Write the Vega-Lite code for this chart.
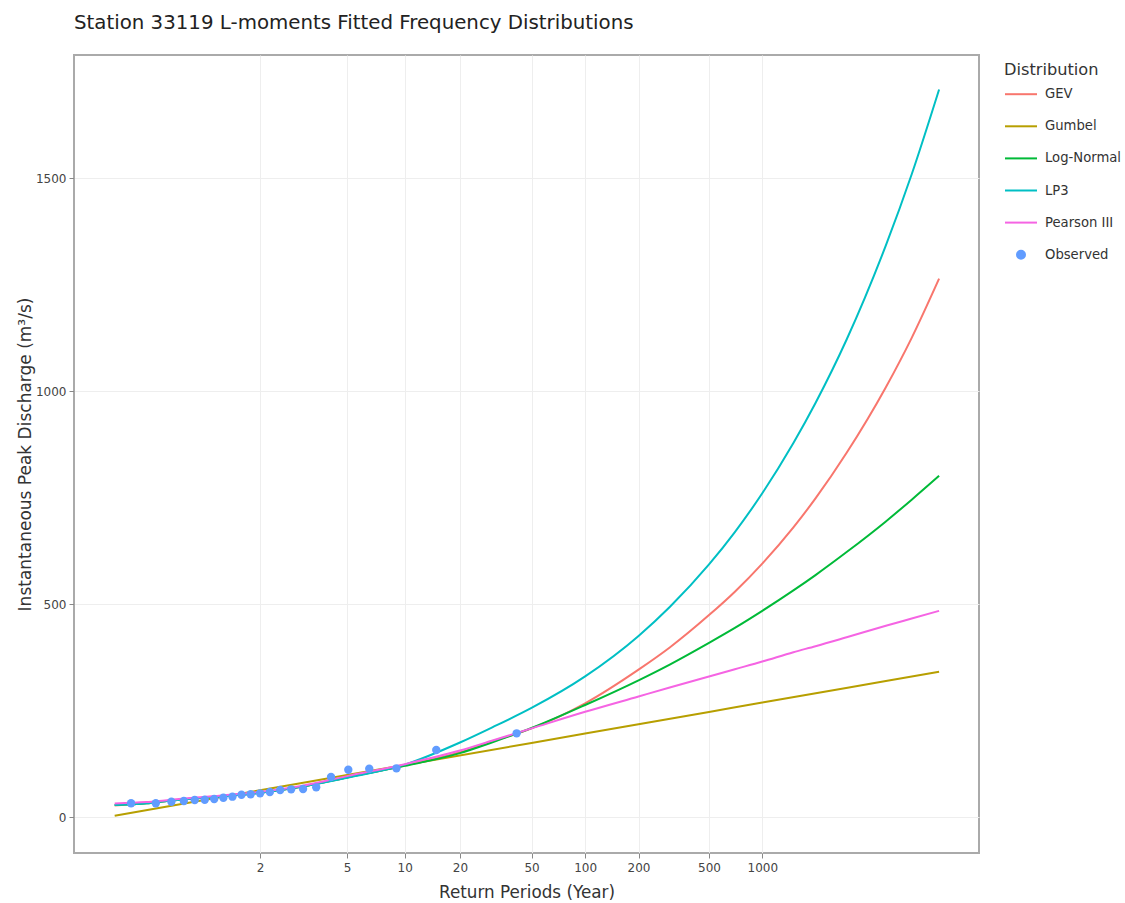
{
  "$schema": "https://vega.github.io/schema/vega-lite/v6.json",
  "width": 905,
  "height": 798,
  "autosize": {"type": "none"},
  "padding": {"left": 74, "top": 55, "right": 146, "bottom": 50},
  "background": "white",
  "title": {"text": "Station 33119 L-moments Fitted Frequency Distributions", "anchor": "start", "frame": "group", "fontSize": 19.8, "font": "DejaVu Sans", "fontWeight": "normal", "color": "#222222", "offset": 22},
  "config": {"view": {"stroke": "#aaaaaa", "strokeWidth": 2}, "font": "DejaVu Sans"},
  "data": {"values": [
    {"Distribution": "GEV", "GumbelVariate": -1.5272, "Discharge": 27},
    {"Distribution": "GEV", "GumbelVariate": -1.1133, "Discharge": 32},
    {"Distribution": "GEV", "GumbelVariate": -0.8746, "Discharge": 37},
    {"Distribution": "GEV", "GumbelVariate": -0.5832, "Discharge": 42},
    {"Distribution": "GEV", "GumbelVariate": -0.0940, "Discharge": 49},
    {"Distribution": "GEV", "GumbelVariate": 0.3665, "Discharge": 57},
    {"Distribution": "GEV", "GumbelVariate": 0.9027, "Discharge": 71},
    {"Distribution": "GEV", "GumbelVariate": 1.4999, "Discharge": 93},
    {"Distribution": "GEV", "GumbelVariate": 2.2504, "Discharge": 121},
    {"Distribution": "GEV", "GumbelVariate": 2.9702, "Discharge": 152},
    {"Distribution": "GEV", "GumbelVariate": 3.3843, "Discharge": 177},
    {"Distribution": "GEV", "GumbelVariate": 3.9019, "Discharge": 208},
    {"Distribution": "GEV", "GumbelVariate": 4.6001, "Discharge": 267},
    {"Distribution": "GEV", "GumbelVariate": 5.2958, "Discharge": 346},
    {"Distribution": "GEV", "GumbelVariate": 5.7021, "Discharge": 398},
    {"Distribution": "GEV", "GumbelVariate": 6.2136, "Discharge": 474},
    {"Distribution": "GEV", "GumbelVariate": 6.5503, "Discharge": 529},
    {"Distribution": "GEV", "GumbelVariate": 6.9073, "Discharge": 595},
    {"Distribution": "GEV", "GumbelVariate": 7.3128, "Discharge": 680},
    {"Distribution": "GEV", "GumbelVariate": 7.6006, "Discharge": 748},
    {"Distribution": "GEV", "GumbelVariate": 8.0062, "Discharge": 855},
    {"Distribution": "GEV", "GumbelVariate": 8.5170, "Discharge": 1009},
    {"Distribution": "GEV", "GumbelVariate": 8.8536, "Discharge": 1125},
    {"Distribution": "GEV", "GumbelVariate": 9.2103, "Discharge": 1264},

    {"Distribution": "Gumbel", "GumbelVariate": -1.5272, "Discharge": 3.1},
    {"Distribution": "Gumbel", "GumbelVariate": -0.5832, "Discharge": 32.8},
    {"Distribution": "Gumbel", "GumbelVariate": 0.3665, "Discharge": 62.7},
    {"Distribution": "Gumbel", "GumbelVariate": 1.4999, "Discharge": 98.4},
    {"Distribution": "Gumbel", "GumbelVariate": 2.2504, "Discharge": 122.0},
    {"Distribution": "Gumbel", "GumbelVariate": 3.9019, "Discharge": 174.0},
    {"Distribution": "Gumbel", "GumbelVariate": 4.6001, "Discharge": 196.0},
    {"Distribution": "Gumbel", "GumbelVariate": 6.2136, "Discharge": 246.7},
    {"Distribution": "Gumbel", "GumbelVariate": 6.9073, "Discharge": 268.6},
    {"Distribution": "Gumbel", "GumbelVariate": 8.5170, "Discharge": 319.2},
    {"Distribution": "Gumbel", "GumbelVariate": 9.2103, "Discharge": 341.0},

    {"Distribution": "Log-Normal", "GumbelVariate": -1.5272, "Discharge": 28},
    {"Distribution": "Log-Normal", "GumbelVariate": -1.1133, "Discharge": 32},
    {"Distribution": "Log-Normal", "GumbelVariate": -0.8746, "Discharge": 37},
    {"Distribution": "Log-Normal", "GumbelVariate": -0.5832, "Discharge": 42},
    {"Distribution": "Log-Normal", "GumbelVariate": -0.0940, "Discharge": 49},
    {"Distribution": "Log-Normal", "GumbelVariate": 0.3665, "Discharge": 57},
    {"Distribution": "Log-Normal", "GumbelVariate": 0.9027, "Discharge": 71},
    {"Distribution": "Log-Normal", "GumbelVariate": 1.4999, "Discharge": 93},
    {"Distribution": "Log-Normal", "GumbelVariate": 2.2504, "Discharge": 120},
    {"Distribution": "Log-Normal", "GumbelVariate": 2.9702, "Discharge": 150},
    {"Distribution": "Log-Normal", "GumbelVariate": 3.3843, "Discharge": 175},
    {"Distribution": "Log-Normal", "GumbelVariate": 3.9019, "Discharge": 209},
    {"Distribution": "Log-Normal", "GumbelVariate": 4.6001, "Discharge": 263},
    {"Distribution": "Log-Normal", "GumbelVariate": 5.2958, "Discharge": 321},
    {"Distribution": "Log-Normal", "GumbelVariate": 5.7021, "Discharge": 358},
    {"Distribution": "Log-Normal", "GumbelVariate": 6.2136, "Discharge": 409},
    {"Distribution": "Log-Normal", "GumbelVariate": 6.5503, "Discharge": 444},
    {"Distribution": "Log-Normal", "GumbelVariate": 6.9073, "Discharge": 484},
    {"Distribution": "Log-Normal", "GumbelVariate": 7.3128, "Discharge": 532},
    {"Distribution": "Log-Normal", "GumbelVariate": 7.6006, "Discharge": 568},
    {"Distribution": "Log-Normal", "GumbelVariate": 8.0062, "Discharge": 622},
    {"Distribution": "Log-Normal", "GumbelVariate": 8.5170, "Discharge": 694},
    {"Distribution": "Log-Normal", "GumbelVariate": 8.8536, "Discharge": 745},
    {"Distribution": "Log-Normal", "GumbelVariate": 9.2103, "Discharge": 801},

    {"Distribution": "LP3", "GumbelVariate": -1.5272, "Discharge": 28},
    {"Distribution": "LP3", "GumbelVariate": -1.1133, "Discharge": 32},
    {"Distribution": "LP3", "GumbelVariate": -0.8746, "Discharge": 37},
    {"Distribution": "LP3", "GumbelVariate": -0.5832, "Discharge": 42},
    {"Distribution": "LP3", "GumbelVariate": -0.0940, "Discharge": 49},
    {"Distribution": "LP3", "GumbelVariate": 0.3665, "Discharge": 57},
    {"Distribution": "LP3", "GumbelVariate": 0.9027, "Discharge": 71},
    {"Distribution": "LP3", "GumbelVariate": 1.4999, "Discharge": 92},
    {"Distribution": "LP3", "GumbelVariate": 2.2504, "Discharge": 123},
    {"Distribution": "LP3", "GumbelVariate": 2.9702, "Discharge": 175},
    {"Distribution": "LP3", "GumbelVariate": 3.3843, "Discharge": 210},
    {"Distribution": "LP3", "GumbelVariate": 3.9019, "Discharge": 256},
    {"Distribution": "LP3", "GumbelVariate": 4.6001, "Discharge": 330},
    {"Distribution": "LP3", "GumbelVariate": 5.2958, "Discharge": 425},
    {"Distribution": "LP3", "GumbelVariate": 5.7021, "Discharge": 493},
    {"Distribution": "LP3", "GumbelVariate": 6.2136, "Discharge": 593},
    {"Distribution": "LP3", "GumbelVariate": 6.5503, "Discharge": 669},
    {"Distribution": "LP3", "GumbelVariate": 6.9073, "Discharge": 760},
    {"Distribution": "LP3", "GumbelVariate": 7.3128, "Discharge": 878},
    {"Distribution": "LP3", "GumbelVariate": 7.6006, "Discharge": 972},
    {"Distribution": "LP3", "GumbelVariate": 8.0062, "Discharge": 1121},
    {"Distribution": "LP3", "GumbelVariate": 8.5170, "Discharge": 1342},
    {"Distribution": "LP3", "GumbelVariate": 8.8536, "Discharge": 1509},
    {"Distribution": "LP3", "GumbelVariate": 9.2103, "Discharge": 1708},

    {"Distribution": "Pearson III", "GumbelVariate": -1.5272, "Discharge": 32},
    {"Distribution": "Pearson III", "GumbelVariate": -1.1133, "Discharge": 35},
    {"Distribution": "Pearson III", "GumbelVariate": -0.8746, "Discharge": 39},
    {"Distribution": "Pearson III", "GumbelVariate": -0.5832, "Discharge": 44},
    {"Distribution": "Pearson III", "GumbelVariate": -0.0940, "Discharge": 51},
    {"Distribution": "Pearson III", "GumbelVariate": 0.3665, "Discharge": 59},
    {"Distribution": "Pearson III", "GumbelVariate": 0.9027, "Discharge": 73},
    {"Distribution": "Pearson III", "GumbelVariate": 1.4999, "Discharge": 96},
    {"Distribution": "Pearson III", "GumbelVariate": 2.2504, "Discharge": 124},
    {"Distribution": "Pearson III", "GumbelVariate": 2.9702, "Discharge": 156},
    {"Distribution": "Pearson III", "GumbelVariate": 3.3843, "Discharge": 179},
    {"Distribution": "Pearson III", "GumbelVariate": 3.9019, "Discharge": 208},
    {"Distribution": "Pearson III", "GumbelVariate": 4.6001, "Discharge": 247},
    {"Distribution": "Pearson III", "GumbelVariate": 5.2958, "Discharge": 283},
    {"Distribution": "Pearson III", "GumbelVariate": 5.7021, "Discharge": 304},
    {"Distribution": "Pearson III", "GumbelVariate": 6.2136, "Discharge": 330},
    {"Distribution": "Pearson III", "GumbelVariate": 6.5503, "Discharge": 347},
    {"Distribution": "Pearson III", "GumbelVariate": 6.9073, "Discharge": 365},
    {"Distribution": "Pearson III", "GumbelVariate": 7.3128, "Discharge": 387},
    {"Distribution": "Pearson III", "GumbelVariate": 7.6006, "Discharge": 401},
    {"Distribution": "Pearson III", "GumbelVariate": 8.0062, "Discharge": 422},
    {"Distribution": "Pearson III", "GumbelVariate": 8.5170, "Discharge": 449},
    {"Distribution": "Pearson III", "GumbelVariate": 8.8536, "Discharge": 466},
    {"Distribution": "Pearson III", "GumbelVariate": 9.2103, "Discharge": 484},

    {"Distribution": "Observed", "GumbelVariate": -1.3139, "Discharge": 32.2},
    {"Distribution": "Observed", "GumbelVariate": -0.9918, "Discharge": 32.2},
    {"Distribution": "Observed", "GumbelVariate": -0.7888, "Discharge": 35.9},
    {"Distribution": "Observed", "GumbelVariate": -0.6265, "Discharge": 37.6},
    {"Distribution": "Observed", "GumbelVariate": -0.4845, "Discharge": 39.9},
    {"Distribution": "Observed", "GumbelVariate": -0.3542, "Discharge": 40.6},
    {"Distribution": "Observed", "GumbelVariate": -0.2309, "Discharge": 42.3},
    {"Distribution": "Observed", "GumbelVariate": -0.1113, "Discharge": 45.3},
    {"Distribution": "Observed", "GumbelVariate": 0.0064, "Discharge": 47.7},
    {"Distribution": "Observed", "GumbelVariate": 0.1243, "Discharge": 52.3},
    {"Distribution": "Observed", "GumbelVariate": 0.2438, "Discharge": 53.3},
    {"Distribution": "Observed", "GumbelVariate": 0.3665, "Discharge": 55.6},
    {"Distribution": "Observed", "GumbelVariate": 0.4940, "Discharge": 58.7},
    {"Distribution": "Observed", "GumbelVariate": 0.6282, "Discharge": 63.4},
    {"Distribution": "Observed", "GumbelVariate": 0.7713, "Discharge": 65.0},
    {"Distribution": "Observed", "GumbelVariate": 0.9263, "Discharge": 65.7},
    {"Distribution": "Observed", "GumbelVariate": 1.0975, "Discharge": 69.7},
    {"Distribution": "Observed", "GumbelVariate": 1.2907, "Discharge": 93.9},
    {"Distribution": "Observed", "GumbelVariate": 1.5155, "Discharge": 111.0},
    {"Distribution": "Observed", "GumbelVariate": 1.7884, "Discharge": 113.4},
    {"Distribution": "Observed", "GumbelVariate": 2.1426, "Discharge": 114.3},
    {"Distribution": "Observed", "GumbelVariate": 2.6613, "Discharge": 157.3},
    {"Distribution": "Observed", "GumbelVariate": 3.7083, "Discharge": 196.5}
  ]},
  "encoding": {
    "x": {
      "field": "GumbelVariate", "type": "quantitative",
      "scale": {"domain": [-2.057, 9.73], "nice": false, "zero": false},
      "title": "Return Periods (Year)",
      "axis": {
        "values": [0.366513, 1.49994, 2.250367, 2.970195, 3.901939, 4.600149, 5.295812, 6.213607, 6.907255],
        "labelExpr": "format(1/(1-exp(-exp(-datum.value))), '.0f')",
        "grid": true, "gridColor": "#eeeeee", "gridWidth": 1,
        "domain": false, "ticks": true, "tickSize": 5, "tickColor": "#888888",
        "labelFontSize": 12, "labelColor": "#444444", "labelPadding": 4, "labelFont": "DejaVu Sans",
        "titleFontSize": 16.8, "titleColor": "#333333", "titleFontWeight": "normal", "titlePadding": 11, "titleFont": "DejaVu Sans"
      }
    },
    "y": {
      "field": "Discharge", "type": "quantitative",
      "scale": {"domain": [-84.5, 1789], "nice": false, "zero": false},
      "title": "Instantaneous Peak Discharge (m³/s)",
      "axis": {
        "values": [0, 500, 1000, 1500],
        "format": "d",
        "grid": true, "gridColor": "#eeeeee", "gridWidth": 1,
        "domain": false, "ticks": true, "tickSize": 5, "tickColor": "#888888",
        "labelFontSize": 12, "labelColor": "#444444", "labelPadding": 3, "labelFont": "DejaVu Sans",
        "titleFontSize": 17, "titleColor": "#333333", "titleFontWeight": "normal", "titlePadding": 1, "titleFont": "DejaVu Sans"
      }
    },
    "color": {
      "field": "Distribution", "type": "nominal",
      "scale": {
        "domain": ["GEV", "Gumbel", "Log-Normal", "LP3", "Pearson III", "Observed"],
        "range": ["#F8766D", "#B79F00", "#00BA38", "#00BFC4", "#F564E3", "#619CFF"]
      },
      "legend": {
        "orient": "none", "legendX": 930, "legendY": 7,
        "title": "Distribution", "titleFontSize": 16.2, "titleFontWeight": "normal", "titleColor": "#333333", "titleFont": "DejaVu Sans", "titlePadding": -1,
        "labelFontSize": 13.2, "labelColor": "#333333", "labelFont": "DejaVu Sans", "labelOffset": 7,
        "symbolSize": 1024, "symbolType": "stroke", "symbolStrokeWidth": 2, "rowPadding": 8.1, "padding": 0,
        "encode": {
          "symbols": {
            "update": {
              "shape": {"signal": "datum.value === 'Observed' ? 'circle' : 'stroke'"},
              "size": {"signal": "datum.value === 'Observed' ? 64 : 1024"},
              "fill": {"signal": "datum.value === 'Observed' ? '#619CFF' : 'transparent'"},
              "stroke": {"signal": "datum.value === 'Observed' ? 'transparent' : scale('color', datum.value)"},
              "strokeWidth": {"value": 2},
              "opacity": {"value": 1}
            }
          }
        }
      }
    }
  },
  "layer": [
    {
      "transform": [{"filter": "datum.Distribution != 'Observed'"}],
      "mark": {"type": "line", "strokeWidth": 2, "interpolate": "monotone", "clip": true}
    },
    {
      "transform": [{"filter": "datum.Distribution == 'Observed'"}],
      "mark": {"type": "circle", "size": 70, "opacity": 1}
    }
  ]
}
